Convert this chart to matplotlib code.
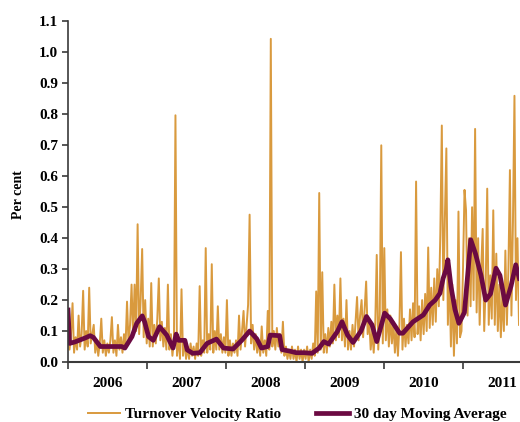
import numpy as np
import matplotlib.pyplot as plt

# weekly turnover velocity ratio (per cent)
ratio_2006 = [0.12, 0.04, 0.09, 0.19, 0.03, 0.08, 0.04, 0.15, 0.05, 0.09, 0.23, 0.04, 0.10,
              0.05, 0.24, 0.06, 0.09, 0.12, 0.03, 0.07, 0.02, 0.06, 0.14, 0.03, 0.07, 0.02,
              0.06, 0.03, 0.07, 0.145, 0.03, 0.07, 0.02, 0.12, 0.04, 0.08, 0.03, 0.09, 0.05,
              0.195, 0.06, 0.12, 0.25, 0.08, 0.25, 0.10, 0.445, 0.09, 0.20, 0.365, 0.08, 0.20]
ratio_2007 = [0.06, 0.14, 0.05, 0.255, 0.05, 0.12, 0.06, 0.14, 0.27, 0.07, 0.13, 0.05, 0.11,
              0.04, 0.25, 0.04, 0.09, 0.02, 0.07, 0.797, 0.02, 0.08, 0.01, 0.235, 0.02, 0.07,
              0.01, 0.05, 0.01, 0.06, 0.02, 0.05, 0.01, 0.06, 0.02, 0.245, 0.02, 0.07, 0.03,
              0.368, 0.03, 0.09, 0.04, 0.316, 0.03, 0.10, 0.04, 0.18, 0.04, 0.09, 0.03, 0.08]
ratio_2008 = [0.03, 0.20, 0.02, 0.07, 0.02, 0.06, 0.03, 0.07, 0.02, 0.15, 0.04, 0.10, 0.165,
              0.05, 0.12, 0.185, 0.476, 0.06, 0.12, 0.04, 0.09, 0.03, 0.07, 0.02, 0.115, 0.03,
              0.07, 0.02, 0.165, 0.04, 1.044, 0.05, 0.10, 0.04, 0.11, 0.05, 0.09, 0.03, 0.13,
              0.02, 0.05, 0.01, 0.04, 0.01, 0.05, 0.01, 0.04, 0.00, 0.05, 0.01, 0.04, 0.00]
ratio_2009 = [0.04, 0.01, 0.05, 0.00, 0.04, 0.01, 0.06, 0.02, 0.228, 0.03, 0.546, 0.04, 0.29,
              0.03, 0.09, 0.03, 0.11, 0.05, 0.13, 0.06, 0.25, 0.07, 0.15, 0.08, 0.27, 0.07,
              0.14, 0.05, 0.20, 0.04, 0.10, 0.04, 0.12, 0.05, 0.13, 0.21, 0.07, 0.15, 0.20,
              0.08, 0.17, 0.26, 0.09, 0.14, 0.04, 0.10, 0.03, 0.12, 0.346, 0.04, 0.15, 0.70]
ratio_2010 = [0.06, 0.368, 0.07, 0.17, 0.05, 0.15, 0.06, 0.13, 0.03, 0.11, 0.02, 0.12, 0.355,
              0.04, 0.14, 0.05, 0.12, 0.06, 0.17, 0.07, 0.19, 0.08, 0.583, 0.09, 0.18, 0.07,
              0.20, 0.09, 0.22, 0.10, 0.37, 0.11, 0.24, 0.12, 0.27, 0.13, 0.30, 0.18, 0.41,
              0.764, 0.20, 0.46, 0.69, 0.12, 0.30, 0.05, 0.25, 0.02, 0.20, 0.06, 0.486, 0.08]
ratio_2011 = [0.10, 0.30, 0.556, 0.49, 0.15, 0.40, 0.18, 0.50, 0.20, 0.753, 0.16, 0.40, 0.12,
              0.30, 0.43, 0.10, 0.25, 0.56, 0.12, 0.28, 0.14, 0.49, 0.12, 0.35, 0.10, 0.25,
              0.08, 0.22, 0.10, 0.36, 0.12, 0.30, 0.62, 0.15, 0.45, 0.86, 0.20, 0.40, 0.12]

# 30 day moving average, key points (decimal year, per cent)
ma_years = [2006.00, 2006.02, 2006.09, 2006.15, 2006.22, 2006.28, 2006.32, 2006.41, 2006.53,
            2006.68, 2006.72, 2006.81, 2006.87, 2006.94, 2006.97, 2007.02, 2007.08, 2007.16,
            2007.25, 2007.33, 2007.37, 2007.40, 2007.48, 2007.51, 2007.58, 2007.67, 2007.76,
            2007.88, 2007.97, 2008.09, 2008.20, 2008.30, 2008.39, 2008.45, 2008.53, 2008.56,
            2008.68, 2008.71, 2008.81, 2008.89, 2008.99, 2009.09, 2009.18, 2009.24, 2009.30,
            2009.41, 2009.47, 2009.54, 2009.61, 2009.71, 2009.78, 2009.85, 2009.91, 2010.01,
            2010.08, 2010.20, 2010.24, 2010.37, 2010.50, 2010.58, 2010.65, 2010.71, 2010.75,
            2010.79, 2010.81, 2010.85, 2010.90, 2010.95, 2011.02, 2011.10, 2011.16, 2011.23,
            2011.29, 2011.35, 2011.42, 2011.47, 2011.54, 2011.61, 2011.67, 2011.715]
ma_values = [0.168, 0.060, 0.065, 0.071, 0.078, 0.085, 0.080, 0.050, 0.050,
             0.050, 0.045, 0.082, 0.125, 0.149, 0.130, 0.082, 0.070, 0.114,
             0.087, 0.045, 0.090, 0.070, 0.070, 0.039, 0.028, 0.030, 0.060,
             0.074, 0.045, 0.042, 0.070, 0.100, 0.075, 0.045, 0.050, 0.087,
             0.085, 0.040, 0.035, 0.030, 0.030, 0.028, 0.045, 0.066, 0.058,
             0.098, 0.130, 0.087, 0.063, 0.100, 0.147, 0.120, 0.066, 0.158,
             0.140, 0.093, 0.093, 0.130, 0.152, 0.184, 0.200, 0.222, 0.270,
             0.300, 0.330, 0.244, 0.170, 0.125, 0.160, 0.395, 0.350, 0.280,
             0.200, 0.220, 0.303, 0.280, 0.184, 0.245, 0.314, 0.270]

ratio = ratio_2006 + ratio_2007 + ratio_2008 + ratio_2009 + ratio_2010 + ratio_2011
weeks = 2006 + np.arange(len(ratio)) * 7 / 365.25

orange = '#D99A3E'
purple = '#6B0A42'
axis_col = '#3a3a3a'

plt.rcParams['font.family'] = 'Liberation Serif'
plt.rcParams['font.weight'] = 'bold'

fig = plt.figure(figsize=(5.2, 4.22), dpi=100)
ax = fig.add_axes([68 / 520, 60 / 422, 451 / 520, 340.5 / 422])

ax.plot(weeks, ratio, color=orange, lw=1.4, label='Turnover Velocity Ratio')
ax.plot(ma_years, ma_values, color=purple, lw=3.4, solid_joinstyle='round',
        label='30 day Moving Average')

ax.set_xlim(2006, weeks[-1])
ax.set_ylim(0, 1.1)
ax.set_yticks(np.arange(0, 1.11, 0.1))
ax.set_yticklabels([f'{v:.1f}' for v in np.arange(0, 1.11, 0.1)], fontsize=11)

years = list(range(2006, 2012))
ax.set_xticks(years)
ax.set_xticklabels([])
ax.set_xticks([y + 0.5 for y in years], minor=True)
ax.set_xticklabels([str(y) for y in years], minor=True, fontsize=11)
ax.tick_params(axis='x', which='major', direction='out', length=5, width=1.2, color=axis_col)
ax.tick_params(axis='x', which='minor', length=0, pad=11)
ax.tick_params(axis='y', direction='out', length=4, width=1.2, color=axis_col, pad=3)

for s in ['top', 'right']:
    ax.spines[s].set_visible(False)
ax.spines['left'].set_color(axis_col)
ax.spines['left'].set_linewidth(1.2)
ax.spines['bottom'].set_color(axis_col)
ax.spines['bottom'].set_linewidth(1.5)

fig.text(18 / 520, 1 - 195 / 422, 'Per cent', rotation=90, ha='center', va='center',
         fontsize=10)

fig.legend(loc='center', bbox_to_anchor=(297 / 520, 1 - 414 / 422), ncol=2, frameon=False,
           fontsize=11, handlelength=2.15, handletextpad=0.3, columnspacing=2.3)

plt.savefig('out.png', dpi=100)
